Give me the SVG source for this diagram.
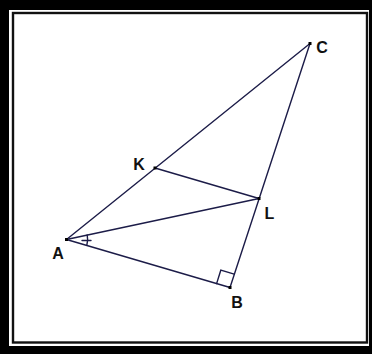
<svg xmlns="http://www.w3.org/2000/svg" width="372" height="354" viewBox="0 0 372 354">
<style>
.seg{stroke:#1c1c48;stroke-width:1.4;fill:none;stroke-linecap:round}
.pt{fill:#000}
.lbl{font-family:"Liberation Sans",Arial,sans-serif;font-weight:bold;font-size:16px;fill:#111;text-anchor:middle}
</style>
<rect x="0" y="0" width="372" height="354" fill="#000"/>
<rect x="9" y="10" width="360" height="336" fill="#fff"/>
<rect x="13" y="13" width="354" height="329.5" fill="none" stroke="#111" stroke-width="2.4"/>
<g id="connectors">
<line class="seg" x1="66.5" y1="239.5" x2="310" y2="43.5"/>
<line class="seg" x1="66.5" y1="239.5" x2="230" y2="287.5"/>
<line class="seg" x1="230" y1="287.5" x2="310" y2="43.5"/>
<line class="seg" x1="66.5" y1="239.5" x2="259" y2="198.5"/>
<line class="seg" x1="155" y1="168" x2="259" y2="198.5"/>
<polyline class="seg" points="216.6,283.6 220.8,270.2 234.2,274.2"/>
<path class="seg" d="M87.2,235 A21,21 0 0 1 86.8,245.4"/>
<line class="seg" x1="82" y1="240.5" x2="91" y2="240.5"/>
</g>
<g id="A"><rect class="pt" x="65" y="238" width="3" height="3"/><text class="lbl" x="58" y="258.5">A</text></g>
<g id="B"><rect class="pt" x="228.5" y="286" width="3" height="3"/><text class="lbl" x="237" y="307.5">B</text></g>
<g id="C"><rect class="pt" x="308.5" y="42" width="3" height="3"/><text class="lbl" x="322" y="52.5">C</text></g>
<g id="K"><rect class="pt" x="153.5" y="166.5" width="3" height="3"/><text class="lbl" x="139" y="169.5">K</text></g>
<g id="L"><rect class="pt" x="257.5" y="197" width="3" height="3"/><text class="lbl" x="269.5" y="218.5">L</text></g>
</svg>
